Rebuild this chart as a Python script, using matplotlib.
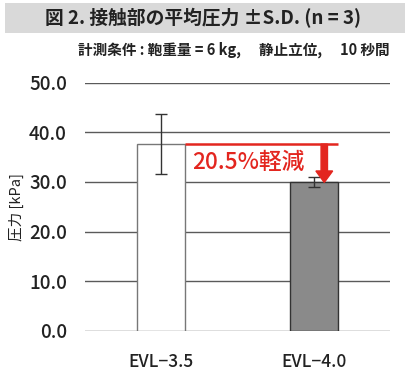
import matplotlib
matplotlib.use("Agg")
import matplotlib.pyplot as plt
from matplotlib.patches import Rectangle, FancyArrow

plt.rcParams['font.family'] = ['Noto Sans CJK JP', 'DejaVu Sans']

categories = ["EVL\u22123.5", "EVL\u22124.0"]
means = [37.6, 29.9]
sds = [6.0, 1.0]
yticks = [0, 10, 20, 30, 40, 50]
title = "図 2. 接触部の平均圧力 ±S.D. (n = 3)"
subtitle = "計測条件 : 鞄重量 = 6 kg,\u3000 静止立位,\u3000 10 秒間"
ylabel = "圧力 [kPa]"
annot = "20.5%軽減"

W, H = 409, 374
fig = plt.figure(figsize=(W / 100, H / 100), dpi=100)
fig.patch.set_facecolor("white")

# title band
fig.patches.append(Rectangle((5 / W, 1 - 33 / H), 400 / W, 30 / H,
                             transform=fig.transFigure, facecolor="#d9d9d9",
                             edgecolor="none", zorder=0))
fig.text(203 / W, 1 - 18 / H, title, ha="center", va="center",
         fontsize=13.5, fontweight="bold", color="#222222")
fig.text(390 / W, 1 - 50 / H, subtitle, ha="right", va="center",
         fontsize=10.5, fontweight="bold", color="#222222")

ax = fig.add_axes([85 / W, 43 / H, 305 / W, 248.5 / H])
x = list(range(len(categories)))
bw = 0.315
ax.bar(x, means, width=bw, color=["white", "#8a8a8a"],
       edgecolor=["#777777", "#333333"], linewidth=1.0, zorder=3)
ax.errorbar(x, means, yerr=sds, fmt="none", ecolor="#333333",
            elinewidth=1.0, capsize=4, capthick=1.0, zorder=4)

ax.set_xlim(-0.5, 1.5)
ax.set_ylim(0, 50)
ax.set_yticks(yticks)
ax.set_yticklabels([f"{v:.1f}" for v in yticks], fontsize=13.5,
                   fontweight="medium", color="#222222")
ax.set_xticks(x)
ax.set_xticklabels(categories, fontsize=12.5, fontweight="medium", color="#222222")
ax.tick_params(axis="both", length=0)
ax.tick_params(axis="y", pad=13)
ax.tick_params(axis="x", pad=16)
for s in ax.spines.values():
    s.set_visible(False)
ax.yaxis.grid(True, color="#5a5a5a", linewidth=1.0, zorder=0)
ax.set_axisbelow(True)
ax.set_ylabel(ylabel, fontsize=10.5, color="#222222", labelpad=4)

red = "#e3261f"
# reduction line from bar1 right edge to bar2 right edge
ax.plot([x[0] + bw / 2, x[1] + bw / 2], [means[0], means[0]], color=red,
        linewidth=1.8, zorder=5, solid_capstyle="butt")
# arrow
ax_x = x[1] + 0.069
head_len = 2.3
ax.add_patch(FancyArrow(ax_x, means[0], 0, -(means[0] - means[1]),
                        width=0.042, head_width=0.11, head_length=head_len,
                        length_includes_head=True, color=red, zorder=6))
ax.text(x[0] + 0.2, 34.0, annot, fontsize=16.3, fontweight="medium", color=red,
        ha="left", va="center", zorder=6)

fig.savefig("out.png", dpi=100)
